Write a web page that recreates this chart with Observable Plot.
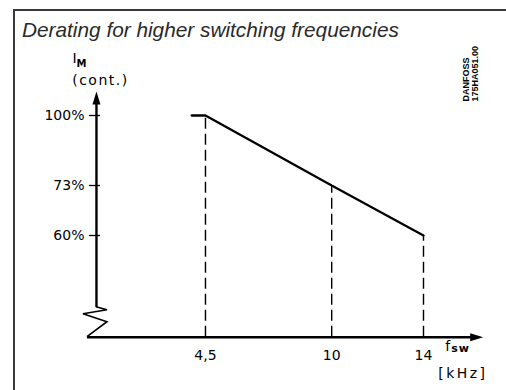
<!DOCTYPE html>
<html><head><meta charset="utf-8">
<script src="https://cdn.jsdelivr.net/npm/d3@7"></script>
<script src="https://cdn.jsdelivr.net/npm/@observablehq/plot@0.6"></script>
<style>
body{margin:0;background:#fff;}
#wrap{position:relative;width:506px;height:390px;overflow:hidden;background:#fff;}
#frame{position:absolute;left:13px;top:9px;width:600px;height:500px;border-left:2px solid #3a3a3a;border-top:2px solid #3a3a3a;}
#title{position:absolute;left:22px;top:18px;font:italic 20.8px "Liberation Sans",Arial,sans-serif;color:#2a2a2a;white-space:nowrap;line-height:24px;}
#chart{position:absolute;left:0;top:0;}
</style></head><body>
<div id="wrap"><div id="frame"></div><div id="title">Derating for higher switching frequencies</div><div id="chart"></div></div>
<script>
// ---- data ----
const curveFreq = [3.9, 4.5, 10, 14];      // kHz
const curvePct  = [100, 100, 73, 60];      // % of I_M (cont.)
const dropFreq  = [4.5, 10, 14];
const dropPct   = [100, 73, 60];
const xTicks      = [4.5, 10, 14];
const xTickLabels = ["4,5", "10", "14"];
const yTicks      = [100, 73, 60];
const yTickLabels = ["100%", "73%", "60%"];
const yTitle = ["I", "M", "(cont.)"];
const xTitle = ["f", "sw", "[kHz]"];
const stamp  = "DANFOSS\n175HA051.00";
// axis extents in data units (with broken axis)
const yAxisAt = -0.25;           // kHz where the current axis stands
const xAxisExtent = [-0.64, 16.6];
const yAxisExtent = [17.5, 109.3];

const curve = curveFreq.map((f, i) => ({f, p: curvePct[i]}));
const drops = dropFreq.map((f, i) => ({f, p: dropPct[i]}));
const font = "'DejaVu Sans', Verdana, sans-serif";

const arrowHead = {draw(ctx) { ctx.moveTo(0, 0); ctx.lineTo(-13, -4); ctx.lineTo(-13, 4); ctx.closePath(); }};

const zigzag = (index, scales) => {
  const ox = scales.x(yAxisAt), oy = scales.y(0);
  const pts = [[0, -30], [11, -27], [-13, -23], [11, -15], [-9, 0]];
  const path = d3.create("svg:path")
    .attr("d", d3.line()(pts.map(([a, b]) => [ox + a, oy + b])))
    .attr("fill", "none").attr("stroke", "#000").attr("stroke-width", 1.6)
    .attr("stroke-linejoin", "miter");
  return path.node();
};

const chart = Plot.plot({
  width: 506, height: 390,
  marginTop: 0, marginRight: 0, marginBottom: 0, marginLeft: 0,
  x: {type: "linear", domain: [0, 14], range: [101.7, 423], axis: null},
  y: {type: "linear", domain: [0, 60, 73, 100], range: [336.7, 235, 185, 115], axis: null},
  style: {fontFamily: font, background: "transparent", overflow: "visible"},
  marks: [
    // dashed drop lines
    Plot.ruleX(drops, {x: "f", y1: () => 0, y2: "p", stroke: "#000", strokeWidth: 1.4, strokeDasharray: "11,5"}),
    // axes
    Plot.ruleY([0], {y: d => d, x1: () => xAxisExtent[0], x2: () => xAxisExtent[1] - 0.3, stroke: "#000", strokeWidth: 2.4}),
    Plot.ruleX([yAxisAt], {x: d => d, y1: () => yAxisExtent[0], y2: () => yAxisExtent[1] - 3, stroke: "#000", strokeWidth: 2.4}),
    zigzag,
    Plot.dot([[xAxisExtent[1], 0, 0], [yAxisAt, yAxisExtent[1], -90]], {x: d => d[0], y: d => d[1], rotate: d => d[2], symbol: arrowHead, fill: "#000", stroke: "none"}),
    // y ticks
    Plot.ruleY(yTicks, {y: d => d, x1: () => yAxisAt, x2: () => yAxisAt, insetLeft: -7, insetRight: -4, stroke: "#000", strokeWidth: 1.3}),
    Plot.text(yTicks, {x: () => yAxisAt, y: d => d, text: (d, i) => yTickLabels[i], textAnchor: "end", dx: -12, fontSize: 14, fill: "#000"}),
    // x tick labels
    Plot.text(xTicks, {x: d => d, y: () => 0, text: (d, i) => xTickLabels[i], dy: 18, fontSize: 14, fill: "#000"}),
    // derating curve
    Plot.line(curve, {x: "f", y: "p", stroke: "#000", strokeWidth: 2.3, strokeLinejoin: "miter"}),
    // axis titles
    Plot.text([yTitle[0]], {x: () => yAxisAt, y: () => yAxisExtent[1], text: d => d, dx: -22, dy: -33, fontSize: 14, fill: "#000"}),
    Plot.text([yTitle[1]], {x: () => yAxisAt, y: () => yAxisExtent[1], text: d => d, dx: -15, dy: -28, fontSize: 10, fontWeight: "bold", fill: "#000"}),
    Plot.text([yTitle[2]], {x: () => yAxisAt, y: () => yAxisExtent[1], text: d => d, dx: 4, dy: -11, fontSize: 14, fill: "#000"}),
    Plot.text([xTitle[0]], {x: () => xAxisExtent[1], y: () => 0, text: d => d, textAnchor: "start", dx: -38, dy: 9, fontSize: 14, fill: "#000"}),
    Plot.text([xTitle[1]], {x: () => xAxisExtent[1], y: () => 0, text: d => d, textAnchor: "start", dx: -32, dy: 11, fontSize: 11, fontWeight: "bold", fill: "#000"}),
    Plot.text([xTitle[2]], {x: () => xAxisExtent[1], y: () => 0, text: d => d, textAnchor: "start", dx: -45, dy: 36, fontSize: 14, fill: "#000"}),
    // stamp
    Plot.text([stamp], {frameAnchor: "top-right", text: d => d, rotate: -90, textAnchor: "start", lineAnchor: "middle", lineHeight: 1.0, dx: -36, dy: 101, fontSize: 9, fontWeight: "bold", fontFamily: "'Liberation Sans', Arial, sans-serif", fill: "#000"})
  ]
});
const ls = {"[kHz]": "2.5px", "(cont.)": "1.5px", "sw": "1px"};
d3.select(chart).selectAll("text").each(function() { const v = ls[this.textContent]; if (v) d3.select(this).style("letter-spacing", v); });
document.getElementById("chart").appendChild(chart);
</script>
</body></html>
